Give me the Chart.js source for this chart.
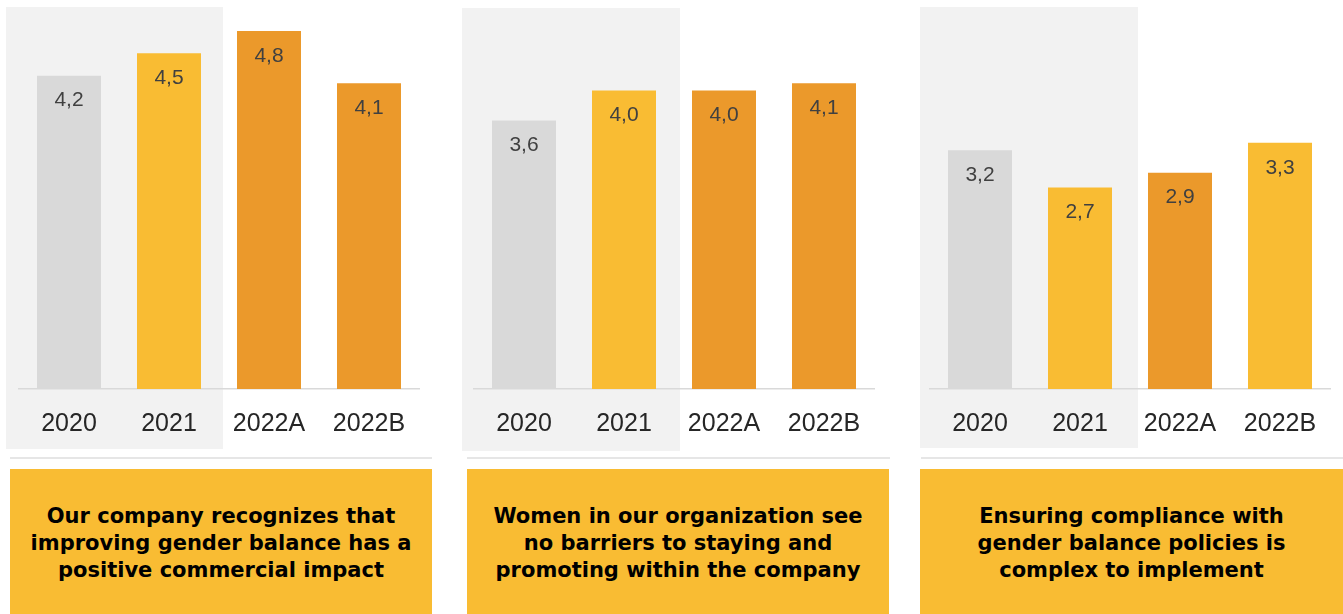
<!DOCTYPE html>
<html>
<head>
<meta charset="utf-8">
<script src="https://cdn.jsdelivr.net/npm/chart.js@4"></script>
<style>
  html, body { margin: 0; padding: 0; background: #ffffff; }
  body { width: 1343px; height: 614px; position: relative; overflow: hidden; }
  .panel-bg { position: absolute; background: #f2f2f2; }
  .chart-box { position: absolute; top: 0; width: 440px; height: 450px; }
  .divider { position: absolute; top: 457px; height: 2px; background: #e6e6e6; }
  .caption {
    position: absolute; top: 469px; height: 160px; background: #f9bc33;
    box-sizing: border-box; padding-top: 34px; text-align: center;
    font-family: "DejaVu Sans", sans-serif; font-weight: bold;
    font-size: 21px; line-height: 27px; color: #000;
  }
</style>
</head>
<body>
<div class="panel-bg" style="left:6px;top:7px;width:217px;height:442px"></div>
<div class="panel-bg" style="left:462px;top:8px;width:218px;height:443px"></div>
<div class="panel-bg" style="left:920px;top:7px;width:218px;height:441px"></div>

<div class="chart-box" style="left:0px"><canvas id="chart1"></canvas></div>
<div class="chart-box" style="left:455px"><canvas id="chart2"></canvas></div>
<div class="chart-box" style="left:911px"><canvas id="chart3"></canvas></div>

<div class="divider" style="left:10px;width:422px"></div>
<div class="divider" style="left:467px;width:423px"></div>
<div class="divider" style="left:921px;width:422px"></div>

<div class="caption" id="caption1" style="left:10px;width:422px"></div>
<div class="caption" id="caption2" style="left:467px;width:422px"></div>
<div class="caption" id="caption3" style="left:920px;width:423px"></div>

<script>
// Survey scores per year
const categories = ['2020', '2021', '2022A', '2022B'];
const commercialImpact = [4.2, 4.5, 4.8, 4.1];
const noBarriers = [3.6, 4.0, 4.0, 4.1];
const complianceComplex = [3.2, 2.7, 2.9, 3.3];

// Statement under each chart
const captions = [
    ['Our company recognizes that', 'improving gender balance has a', 'positive commercial impact'],
    ['Women in our organization see', 'no barriers to staying and', 'promoting within the company'],
    ['Ensuring compliance with', 'gender balance policies is', 'complex to implement']
];

const GREY = '#d9d9d9';
const YELLOW = '#f9bc33';
const ORANGE = '#eb992b';

const barColors = [
    [GREY, YELLOW, ORANGE, ORANGE],
    [GREY, YELLOW, ORANGE, ORANGE],
    [GREY, YELLOW, ORANGE, YELLOW]
];

// Value written just inside the top of each bar, with a decimal comma
const valueLabels = {
    id: 'valueLabels',
    afterDatasetsDraw(chart) {
        const ctx = chart.ctx;
        const meta = chart.getDatasetMeta(0);
        const values = chart.data.datasets[0].data;
        ctx.save();
        ctx.font = '21px "Liberation Sans", Arial, sans-serif';
        ctx.fillStyle = '#404040';
        ctx.textAlign = 'center';
        ctx.textBaseline = 'middle';
        meta.data.forEach((bar, i) => {
            const text = values[i].toFixed(1).replace('.', ',');
            ctx.fillText(text, bar.x, bar.y + 25);
        });
        ctx.restore();
    }
};

function makeChart(canvasId, values, colors) {
    const ctx = document.getElementById(canvasId).getContext('2d');
    return new Chart(ctx, {
        type: 'bar',
        data: {
            labels: categories,
            datasets: [{
                data: values,
                backgroundColor: colors,
                borderWidth: 0,
                categoryPercentage: 0.8,
                barPercentage: 0.8
            }]
        },
        options: {
            responsive: true,
            maintainAspectRatio: false,
            animation: false,
            events: [],
            layout: {
                padding: { left: 19, right: 21, top: 16, bottom: 0 }
            },
            plugins: {
                legend: { display: false },
                tooltip: { enabled: false }
            },
            scales: {
                x: {
                    grid: { display: false, drawTicks: false },
                    border: { display: true, color: '#d9d9d9', width: 1.5 },
                    ticks: {
                        color: '#262626',
                        padding: 20,
                        font: { family: '"Liberation Sans", Arial, sans-serif', size: 25 }
                    },
                    afterFit(scale) {
                        scale.height = 61;
                    }
                },
                y: {
                    display: false,
                    min: 0,
                    max: 5
                }
            }
        },
        plugins: [valueLabels]
    });
}

makeChart('chart1', commercialImpact, barColors[0]);
makeChart('chart2', noBarriers, barColors[1]);
makeChart('chart3', complianceComplex, barColors[2]);

captions.forEach((lines, i) => {
    document.getElementById('caption' + (i + 1)).innerHTML = lines.join('<br>');
});
</script>
</body>
</html>
